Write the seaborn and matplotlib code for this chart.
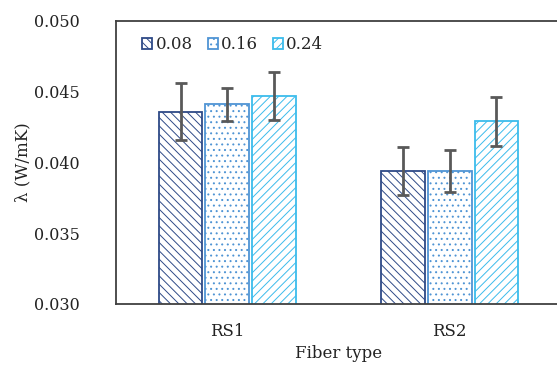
import matplotlib
matplotlib.use("Agg")
import matplotlib.pyplot as plt
import matplotlib.patches as mpatches
import seaborn as sns
import pandas as pd

FIBERS = ["RS1", "RS2"]
CONTENTS = ["0.08", "0.16", "0.24"]
LAMBDA_RS1 = [0.0436, 0.0441, 0.0447]
LAMBDA_RS2 = [0.0394, 0.0394, 0.0429]
ERR_RS1 = [0.0020, 0.0012, 0.0017]
ERR_RS2 = [0.0017, 0.0015, 0.0017]

COLORS = ["#2e4a87", "#4f94d4", "#3cbcec"]
HATCHES = ["\\\\\\\\", "...", "////"]

df = pd.DataFrame({
    "fiber": [f for f in FIBERS for _ in CONTENTS],
    "content": CONTENTS * len(FIBERS),
    "lam": LAMBDA_RS1 + LAMBDA_RS2,
    "err": ERR_RS1 + ERR_RS2,
})

sns.set_style("white")
plt.rcParams["font.family"] = ["DejaVu Serif"]
plt.rcParams["hatch.linewidth"] = 0.7

fig = plt.figure(figsize=(5.57, 3.65), dpi=100)
ax = fig.add_axes([116 / 557, 1 - 304 / 365, 445 / 557, 283 / 365])

sns.barplot(
    data=df, x="fiber", y="lam", hue="content", hue_order=CONTENTS,
    order=FIBERS, errorbar=None, width=0.63, gap=0.06,
    palette=["white"] * 3, legend=False, ax=ax,
)

for cont, col, hatch, level in zip(ax.containers, COLORS, HATCHES, CONTENTS):
    sub = df[df.content == level].set_index("fiber").loc[FIBERS]
    xs = []
    for bar in cont:
        bar.set_edgecolor(col)
        bar.set_linewidth(1.3)
        bar.set_hatch(hatch)
        xs.append(bar.get_x() + bar.get_width() / 2)
    ax.errorbar(xs, sub.lam, yerr=sub.err, fmt="none", ecolor="#595959",
                elinewidth=2, capsize=4, capthick=2, zorder=5)

ax.set_ylim(0.030, 0.050)
ax.set_xlim(-0.5, 1.5)
ax.set_yticks([0.030, 0.035, 0.040, 0.045, 0.050])
ax.set_yticklabels([f"{v:.3f}" for v in [0.030, 0.035, 0.040, 0.045, 0.050]])
ax.tick_params(axis="y", direction="in", length=4, width=1, pad=26,
               labelsize=11.5, colors="#404040", labelcolor="#222222")
ax.tick_params(axis="x", length=0, pad=14, labelsize=12, labelcolor="#222222")

for side in ["left", "bottom", "top"]:
    ax.spines[side].set_visible(True)
    ax.spines[side].set_color("#404040")
    ax.spines[side].set_linewidth(1.3)
ax.spines["right"].set_visible(False)

ax.set_xlabel("Fiber type", fontsize=12, color="#222222")
ax.set_ylabel("λ (W/mK)", fontsize=12, color="#222222")
ax.xaxis.set_label_coords(0.5, -0.145)
ax.yaxis.set_label_coords(-0.19, 0.5)

handles = [mpatches.Patch(facecolor="white", edgecolor=c, hatch=h, linewidth=1.3)
           for c, h in zip(COLORS, HATCHES)]
ax.legend(handles, CONTENTS, loc="upper left", bbox_to_anchor=(0.04, 0.975),
          ncol=3, frameon=False, fontsize=12, handlelength=0.6, handleheight=0.6,
          handletextpad=0.2, columnspacing=0.9, borderpad=0)

fig.savefig("out.png", dpi=100)
